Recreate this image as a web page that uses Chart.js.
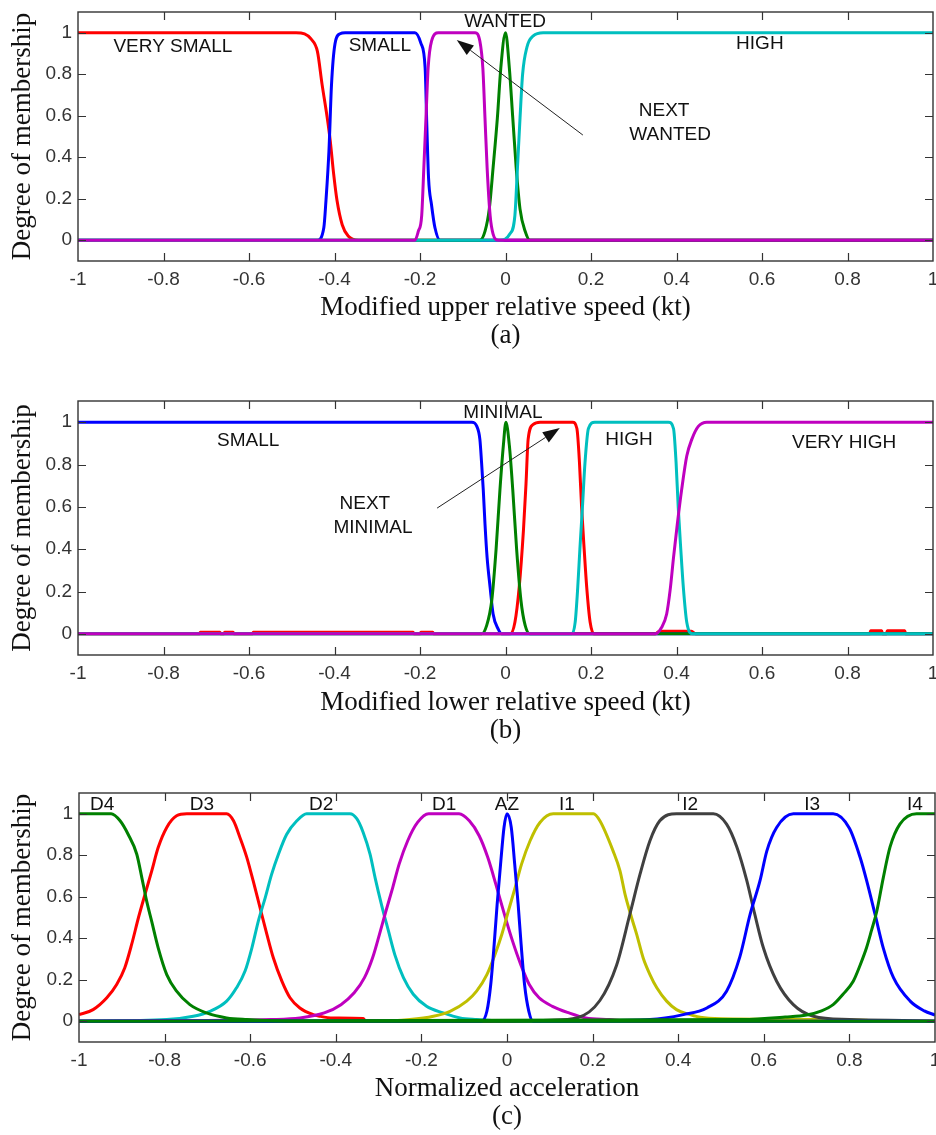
<!DOCTYPE html>
<html>
<head>
<meta charset="utf-8">
<script src="https://cdn.jsdelivr.net/npm/chart.js@4.4.1/dist/chart.umd.min.js"></script>
<style>
  html, body { margin: 0; padding: 0; background: #ffffff; }
  #wrap { position: relative; width: 936px; height: 1135px; overflow: hidden; background: #fff; }
  canvas { position: absolute; left: 0; }
</style>
</head>
<body>
<div id="wrap">
  <canvas id="ca" width="936" height="352" style="top:0px"></canvas>
  <canvas id="cb" width="936" height="370" style="top:380px"></canvas>
  <canvas id="cc" width="936" height="365" style="top:770px"></canvas>
</div>
<script>
// ---------- tick values / labels ----------
const xTickValues = [-1, -0.8, -0.6, -0.4, -0.2, 0, 0.2, 0.4, 0.6, 0.8, 1];
const xTickLabels = ['-1', '-0.8', '-0.6', '-0.4', '-0.2', '0', '0.2', '0.4', '0.6', '0.8', '1'];
const yTickValues = [0, 0.2, 0.4, 0.6, 0.8, 1];
const yTickLabels = ['0', '0.2', '0.4', '0.6', '0.8', '1'];

// ---------- panel (a): modified upper relative speed ----------
const aVerySmall = [[-1,1],[-0.49,1],[-0.47,0.995],[-0.455,0.97],[-0.44,0.91],[-0.429,0.75],[-0.417,0.59],[-0.41,0.48],[-0.402,0.32],[-0.394,0.19],[-0.382,0.075],[-0.368,0.02],[-0.344,0],[1,0]];
const aSmall = [[-1,0],[-0.44,0],[-0.425,0.06],[-0.42,0.19],[-0.413,0.43],[-0.407,0.75],[-0.399,0.945],[-0.387,0.995],[-0.375,1],[-0.212,1],[-0.198,0.95],[-0.188,0.83],[-0.184,0.55],[-0.18,0.3],[-0.173,0.17],[-0.165,0.06],[-0.153,0],[1,0]];
const aWanted = [[-1,0],[-0.06,0],[-0.048,0.043],[-0.038,0.15],[-0.029,0.35],[-0.019,0.59],[-0.011,0.83],[0,1],[0.009,0.83],[0.017,0.59],[0.025,0.35],[0.034,0.15],[0.046,0.043],[0.057,0],[1,0]];
const aNextWanted = [[-1,0],[-0.212,0],[-0.204,0.043],[-0.196,0.12],[-0.191,0.35],[-0.186,0.59],[-0.181,0.83],[-0.173,0.96],[-0.157,1],[-0.071,1],[-0.06,0.96],[-0.053,0.83],[-0.048,0.59],[-0.043,0.35],[-0.036,0.12],[-0.029,0.03],[-0.017,0],[1,0]];
const aHigh = [[-1,0],[-0.013,0],[0.01,0.03],[0.022,0.12],[0.028,0.35],[0.034,0.59],[0.04,0.8],[0.05,0.93],[0.065,0.985],[0.088,1],[1,1]];

// ---------- panel (b): modified lower relative speed ----------
const bSmall = [[-1,1],[-0.079,1],[-0.067,0.98],[-0.06,0.92],[-0.056,0.81],[-0.052,0.68],[-0.048,0.52],[-0.043,0.36],[-0.036,0.22],[-0.029,0.094],[-0.017,0.022],[-0.009,0],[1,0]];
const bMinimal = [[-1,0],[-0.056,0],[-0.044,0.04],[-0.032,0.16],[-0.022,0.4],[-0.013,0.68],[-0.005,0.89],[0.001,1],[0.009,0.89],[0.017,0.68],[0.026,0.4],[0.036,0.16],[0.046,0.04],[0.057,0],[1,0]];
const bNextMinimal = [[-1,0],[-0.716,0],[-0.714,0.008],[-0.668,0.008],[-0.666,0],[-0.659,0],[-0.657,0.008],[-0.637,0.008],[-0.635,0],[-0.592,0],[-0.59,0.008],[-0.216,0.008],[-0.214,0],[-0.2,0],[-0.198,0.008],[-0.17,0.008],[-0.168,0],[0.011,0],[0.022,0.055],[0.032,0.22],[0.042,0.49],[0.048,0.71],[0.053,0.92],[0.065,0.99],[0.081,1],[0.157,1],[0.167,0.97],[0.173,0.81],[0.178,0.6],[0.184,0.4],[0.19,0.22],[0.198,0.055],[0.207,0],[0.35,0],[0.36,0.012],[0.435,0.012],[0.445,0],[0.852,0],[0.854,0.014],[0.88,0.014],[0.882,0],[0.891,0],[0.893,0.014],[0.934,0.014],[0.936,0],[1,0]];
const bHigh = [[-1,0],[0.155,0],[0.163,0.055],[0.169,0.22],[0.174,0.4],[0.18,0.6],[0.186,0.81],[0.194,0.97],[0.209,1],[0.381,1],[0.393,0.97],[0.399,0.81],[0.404,0.6],[0.41,0.4],[0.416,0.22],[0.424,0.055],[0.438,0],[1,0]];
const bVeryHigh = [[-1,0],[0.35,0],[0.365,0.03],[0.377,0.094],[0.385,0.205],[0.393,0.36],[0.402,0.52],[0.412,0.68],[0.424,0.84],[0.436,0.92],[0.451,0.98],[0.471,1],[1,1]];

// ---------- panel (c): normalized acceleration ----------
const cD4 = [[-1,1],[-0.925,1],[-0.904,0.966],[-0.885,0.9],[-0.865,0.805],[-0.853,0.69],[-0.842,0.58],[-0.83,0.48],[-0.815,0.354],[-0.795,0.225],[-0.772,0.145],[-0.741,0.08],[-0.702,0.04],[-0.655,0.016],[-0.608,0.008],[-0.5,0],[1,0]];
const cD3 = [[-1,0.032],[-0.967,0.056],[-0.935,0.113],[-0.912,0.177],[-0.893,0.258],[-0.877,0.37],[-0.861,0.5],[-0.846,0.61],[-0.83,0.725],[-0.815,0.837],[-0.795,0.934],[-0.772,0.99],[-0.748,1],[-0.655,1],[-0.639,0.966],[-0.624,0.886],[-0.608,0.79],[-0.593,0.676],[-0.577,0.547],[-0.561,0.419],[-0.546,0.306],[-0.526,0.193],[-0.507,0.113],[-0.484,0.064],[-0.453,0.032],[-0.437,0.024],[-0.407,0.016],[-0.336,0.013],[-0.33,0],[1,0]];
const cD2 = [[-1,0],[-0.795,0.008],[-0.733,0.024],[-0.694,0.048],[-0.655,0.097],[-0.632,0.161],[-0.612,0.242],[-0.596,0.354],[-0.581,0.483],[-0.565,0.595],[-0.55,0.708],[-0.534,0.805],[-0.515,0.9],[-0.491,0.966],[-0.468,1],[-0.367,1],[-0.351,0.976],[-0.336,0.91],[-0.32,0.805],[-0.308,0.69],[-0.293,0.56],[-0.277,0.435],[-0.262,0.32],[-0.242,0.21],[-0.219,0.13],[-0.188,0.072],[-0.149,0.04],[-0.11,0.016],[-0.071,0.008],[0,0],[1,0]];
const cD1 = [[-1,0],[-0.7,0.004],[-0.55,0.008],[-0.484,0.016],[-0.427,0.04],[-0.388,0.08],[-0.357,0.137],[-0.333,0.21],[-0.314,0.306],[-0.298,0.419],[-0.283,0.53],[-0.267,0.644],[-0.252,0.757],[-0.232,0.87],[-0.209,0.958],[-0.183,1],[-0.112,1],[-0.088,0.966],[-0.065,0.894],[-0.045,0.79],[-0.026,0.66],[-0.006,0.515],[0.013,0.386],[0.032,0.274],[0.052,0.177],[0.075,0.113],[0.106,0.072],[0.145,0.04],[0.184,0.016],[0.239,0.008],[0.3,0],[1,0]];
const cAZ = [[-1,0],[-0.06,0],[-0.047,0.048],[-0.038,0.177],[-0.03,0.37],[-0.023,0.564],[-0.015,0.757],[-0.007,0.934],[0,1],[0.01,0.934],[0.018,0.757],[0.026,0.564],[0.033,0.37],[0.041,0.177],[0.051,0.048],[0.061,0],[1,0]];
const cI1 = [[-1,0],[-0.3,0],[-0.227,0.008],[-0.172,0.024],[-0.133,0.048],[-0.094,0.097],[-0.071,0.145],[-0.047,0.225],[-0.028,0.322],[-0.012,0.419],[0.003,0.53],[0.019,0.644],[0.034,0.757],[0.054,0.87],[0.077,0.958],[0.108,1],[0.202,1],[0.217,0.966],[0.248,0.82],[0.264,0.725],[0.276,0.61],[0.291,0.5],[0.303,0.419],[0.318,0.306],[0.334,0.225],[0.35,0.161],[0.373,0.097],[0.396,0.056],[0.428,0.032],[0.451,0.019],[0.5,0.012],[0.84,0.005],[0.86,0],[1,0]];
const cI2 = [[-1,0],[0,0],[0.1,0.005],[0.163,0.016],[0.217,0.1],[0.256,0.27],[0.287,0.515],[0.311,0.71],[0.334,0.87],[0.357,0.966],[0.396,1],[0.482,1],[0.513,0.95],[0.537,0.84],[0.56,0.68],[0.579,0.515],[0.599,0.354],[0.63,0.193],[0.669,0.08],[0.716,0.024],[0.8,0.008],[0.95,0.003],[1,0]];
const cI3 = [[-1,0],[0.2,0.003],[0.334,0.008],[0.412,0.032],[0.467,0.064],[0.513,0.145],[0.544,0.31],[0.568,0.515],[0.591,0.676],[0.607,0.82],[0.63,0.934],[0.669,1],[0.762,1],[0.8,0.93],[0.825,0.79],[0.84,0.68],[0.86,0.515],[0.879,0.354],[0.903,0.21],[0.942,0.097],[0.975,0.05],[1,0.03]];
const cI4 = [[-1,0],[0.55,0.008],[0.65,0.02],[0.7,0.03],[0.735,0.05],[0.762,0.08],[0.785,0.13],[0.809,0.193],[0.825,0.27],[0.84,0.354],[0.852,0.44],[0.864,0.53],[0.879,0.69],[0.895,0.84],[0.918,0.95],[0.957,1],[1,1]];

// ---------- text labels (data coordinates) ----------
const aLabels = [
  {text:'VERY SMALL', x:-0.778, y:0.931},
  {text:'SMALL', x:-0.294, y:0.936},
  {text:'WANTED', x:-0.001, y:1.052},
  {text:'HIGH', x:0.595, y:0.946},
  {text:'NEXT', x:0.371, y:0.623},
  {text:'WANTED', x:0.385, y:0.507}
];
const aArrows = [{x1:0.181, y1:0.507, x2:-0.114, y2:0.965}];
const bLabels = [
  {text:'SMALL', x:-0.602, y:0.911},
  {text:'MINIMAL', x:-0.006, y:1.043},
  {text:'HIGH', x:0.289, y:0.915},
  {text:'VERY HIGH', x:0.792, y:0.901},
  {text:'NEXT', x:-0.329, y:0.613},
  {text:'MINIMAL', x:-0.31, y:0.5}
];
const bArrows = [{x1:-0.16, y1:0.594, x2:0.127, y2:0.972}];
const cLabels = [
  {text:'D4', x:-0.946, y:1.042},
  {text:'D3', x:-0.713, y:1.042},
  {text:'D2', x:-0.434, y:1.042},
  {text:'D1', x:-0.147, y:1.042},
  {text:'AZ', x:0.0, y:1.042},
  {text:'I1', x:0.14, y:1.042},
  {text:'I2', x:0.428, y:1.042},
  {text:'I3', x:0.713, y:1.042},
  {text:'I4', x:0.953, y:1.042}
];

// ---------- styling ----------
const C = {red:'#ff0000', blue:'#0000ff', green:'#008000', cyan:'#00bfbf', magenta:'#bf00bf', yellow:'#bfbf00', gray:'#404040'};
const SANS = "'Liberation Sans', Arial, Helvetica, sans-serif";
const SERIF = "'Liberation Serif', 'Times New Roman', Times, serif";

function framePlugin(labels, arrows) {
  return {
    id: 'frame',
    afterDatasetsDraw(chart) {
      const {ctx, chartArea} = chart;
      const {left, right, top, bottom} = chartArea;
      const xs = chart.scales.x, ys = chart.scales.y;
      ctx.save();
      ctx.font = '19px ' + SANS;
      ctx.fillStyle = '#111';
      ctx.textAlign = 'center';
      ctx.textBaseline = 'middle';
      labels.forEach(l => ctx.fillText(l.text, xs.getPixelForValue(l.x), ys.getPixelForValue(l.y)));
      arrows.forEach(a => {
        const x1 = xs.getPixelForValue(a.x1), y1 = ys.getPixelForValue(a.y1);
        const x2 = xs.getPixelForValue(a.x2), y2 = ys.getPixelForValue(a.y2);
        const ang = Math.atan2(y2 - y1, x2 - x1);
        const len = 17, hw = 6;
        const bx = x2 - len * Math.cos(ang), by = y2 - len * Math.sin(ang);
        ctx.strokeStyle = '#222'; ctx.lineWidth = 1;
        ctx.beginPath(); ctx.moveTo(x1, y1); ctx.lineTo(bx, by); ctx.stroke();
        ctx.fillStyle = '#111';
        ctx.beginPath();
        ctx.moveTo(x2, y2);
        ctx.lineTo(bx + hw * Math.sin(ang), by - hw * Math.cos(ang));
        ctx.lineTo(bx - hw * Math.sin(ang), by + hw * Math.cos(ang));
        ctx.closePath(); ctx.fill();
      });
      ctx.strokeStyle = '#333';
      ctx.lineWidth = 1.4;
      ctx.strokeRect(left, top, right - left, bottom - top);
      ctx.beginPath();
      xTickValues.forEach(v => {
        if (v === -1 || v === 1) return;
        const px = Math.round(xs.getPixelForValue(v)) + 0.5;
        ctx.moveTo(px, bottom); ctx.lineTo(px, bottom - 8);
        ctx.moveTo(px, top); ctx.lineTo(px, top + 8);
      });
      yTickValues.forEach(v => {
        const py = Math.round(ys.getPixelForValue(v)) + 0.5;
        ctx.moveTo(left, py); ctx.lineTo(left + 8, py);
        ctx.moveTo(right, py); ctx.lineTo(right - 8, py);
      });
      ctx.lineWidth = 1.2;
      ctx.stroke();
      ctx.restore();
    }
  };
}

function makeDatasets(list) {
  const n = list.length;
  return list.map((s, i) => ({
    label: s.name,
    data: s.data.map(p => ({x: p[0], y: p[1]})),
    borderColor: s.color,
    backgroundColor: s.color,
    borderWidth: 3,
    pointRadius: 0,
    fill: false,
    cubicInterpolationMode: 'monotone',
    order: n - i
  }));
}

function makeChart(id, cfg) {
  const ctx = document.getElementById(id).getContext('2d');
  return new Chart(ctx, {
    type: 'line',
    data: {datasets: makeDatasets(cfg.series)},
    options: {
      responsive: false,
      animation: false,
      devicePixelRatio: 1,
      layout: {autoPadding: false, padding: {top: cfg.padTop, right: cfg.padRight, left: 0, bottom: 0}},
      plugins: {legend: {display: false}, tooltip: {enabled: false}, title: {display: false}},
      scales: {
        x: {
          type: 'linear', min: -1, max: 1,
          afterBuildTicks: s => { s.ticks = xTickValues.map(v => ({value: v})); },
          afterFit: s => { s.height = cfg.xHeight; s.paddingLeft = 0; s.paddingRight = 0; s.paddingTop = 0; s.paddingBottom = 0; },
          ticks: {
            autoSkip: false, maxRotation: 0, minRotation: 0, padding: 7,
            color: '#333', font: {family: SANS, size: 19},
            callback: (v, i) => xTickLabels[i]
          },
          grid: {display: false, drawTicks: false},
          border: {display: false},
          title: {
            display: true, text: [cfg.xTitle, cfg.tag], color: '#111',
            font: {family: SERIF, size: 27, lineHeight: 1.05},
            padding: {top: 0, bottom: cfg.titlePadBottom}
          }
        },
        y: {
          type: 'linear', min: -0.1, max: 1.1,
          afterBuildTicks: s => { s.ticks = yTickValues.map(v => ({value: v})); },
          afterFit: s => { s.width = cfg.yWidth; s.paddingLeft = 0; s.paddingRight = 0; s.paddingTop = 0; s.paddingBottom = 0; },
          ticks: {
            padding: 6, color: '#333', font: {family: SANS, size: 19},
            callback: (v, i) => yTickLabels[i]
          },
          grid: {display: false, drawTicks: false},
          border: {display: false},
          title: {
            display: true, text: 'Degree of membership', color: '#111',
            font: {family: SERIF, size: 27, lineHeight: 1.05},
            padding: {top: 9, bottom: 0}
          }
        }
      }
    },
    plugins: [framePlugin(cfg.labels, cfg.arrows)]
  });
}

makeChart('ca', {
  series: [
    {name:'VERY SMALL', data:aVerySmall, color:C.red},
    {name:'SMALL', data:aSmall, color:C.blue},
    {name:'WANTED', data:aWanted, color:C.green},
    {name:'HIGH', data:aHigh, color:C.cyan},
    {name:'NEXT WANTED', data:aNextWanted, color:C.magenta}
  ],
  padTop: 12, padRight: 3, xHeight: 91, yWidth: 78, titlePadBottom: 1.9,
  xTitle: 'Modified upper relative speed (kt)', tag: '(a)',
  labels: aLabels, arrows: aArrows
});

makeChart('cb', {
  series: [
    {name:'NEXT MINIMAL', data:bNextMinimal, color:C.red},
    {name:'SMALL', data:bSmall, color:C.blue},
    {name:'MINIMAL', data:bMinimal, color:C.green},
    {name:'HIGH', data:bHigh, color:C.cyan},
    {name:'VERY HIGH', data:bVeryHigh, color:C.magenta}
  ],
  padTop: 21, padRight: 3, xHeight: 95, yWidth: 78, titlePadBottom: 4.5,
  xTitle: 'Modified lower relative speed (kt)', tag: '(b)',
  labels: bLabels, arrows: bArrows
});

makeChart('cc', {
  series: [
    {name:'D3', data:cD3, color:C.red},
    {name:'D2', data:cD2, color:C.cyan},
    {name:'D1', data:cD1, color:C.magenta},
    {name:'I1', data:cI1, color:C.yellow},
    {name:'I2', data:cI2, color:C.gray},
    {name:'I3', data:cI3, color:C.blue},
    {name:'AZ', data:cAZ, color:C.blue},
    {name:'D4', data:cD4, color:C.green},
    {name:'I4', data:cI4, color:C.green}
  ],
  padTop: 23, padRight: 1, xHeight: 93, yWidth: 79, titlePadBottom: 3.6,
  xTitle: 'Normalized acceleration', tag: '(c)',
  labels: cLabels, arrows: []
});
</script>
</body>
</html>
